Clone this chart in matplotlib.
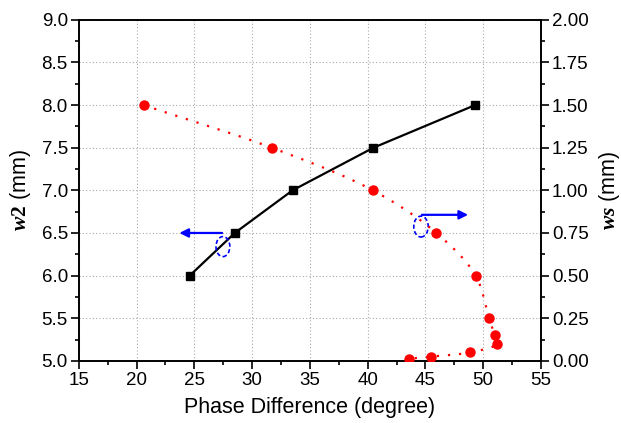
import numpy as np
import matplotlib
matplotlib.use("Agg")
import matplotlib.pyplot as plt
from matplotlib.patches import Ellipse

plt.rcParams['font.family'] = ['Liberation Sans', 'DejaVu Sans']
plt.rcParams['mathtext.fontset'] = 'custom'
plt.rcParams['mathtext.it'] = 'Liberation Serif:italic:bold'
plt.rcParams['mathtext.rm'] = 'Liberation Serif:bold'

# Data
w2_phase = [24.6, 28.5, 33.5, 40.5, 49.3]
w2_vals = [6.0, 6.5, 7.0, 7.5, 8.0]

ws_phase = [20.6, 31.7, 40.45, 45.95, 49.35, 50.5, 51.0, 51.17, 48.9, 45.5, 43.6]
ws_vals = [1.50, 1.25, 1.00, 0.75, 0.50, 0.25, 0.15, 0.10, 0.05, 0.025, 0.012]

x_ticks = [15, 20, 25, 30, 35, 40, 45, 50, 55]
left_ticks = [5.0, 5.5, 6.0, 6.5, 7.0, 7.5, 8.0, 8.5, 9.0]
right_ticks = [0.0, 0.25, 0.5, 0.75, 1.0, 1.25, 1.5, 1.75, 2.0]


def catmull_rom(xs, ys, sx, sy, n=30, alpha=0.5):
    P = np.column_stack([np.asarray(xs) * sx, np.asarray(ys) * sy])
    P = np.vstack([2 * P[0] - P[1], P, 2 * P[-1] - P[-2]])
    out = []
    for i in range(1, len(P) - 2):
        p0, p1, p2, p3 = P[i - 1], P[i], P[i + 1], P[i + 2]
        t0 = 0.0
        t1 = t0 + np.linalg.norm(p1 - p0) ** alpha + 1e-9
        t2 = t1 + np.linalg.norm(p2 - p1) ** alpha + 1e-9
        t3 = t2 + np.linalg.norm(p3 - p2) ** alpha + 1e-9
        t = np.linspace(t1, t2, n)[:, None]
        A1 = (t1 - t) / (t1 - t0) * p0 + (t - t0) / (t1 - t0) * p1
        A2 = (t2 - t) / (t2 - t1) * p1 + (t - t1) / (t2 - t1) * p2
        A3 = (t3 - t) / (t3 - t2) * p2 + (t - t2) / (t3 - t2) * p3
        B1 = (t2 - t) / (t2 - t0) * A1 + (t - t0) / (t2 - t0) * A2
        B2 = (t3 - t) / (t3 - t1) * A2 + (t - t1) / (t3 - t1) * A3
        C = (t2 - t) / (t2 - t1) * B1 + (t - t1) / (t2 - t1) * B2
        out.append(C if i == 1 else C[1:])
    C = np.vstack(out)
    return C[:, 0] / sx, C[:, 1] / sy


fig = plt.figure(figsize=(6.21, 4.23), dpi=100)
ax = fig.add_axes([0.127, 0.147, 0.744, 0.806])
ax2 = ax.twinx()

ax.set_xlim(15, 55)
ax.set_ylim(5.0, 9.0)
ax2.set_ylim(0.0, 2.0)

ax.set_xticks(x_ticks)
ax.set_yticks(left_ticks)
ax.set_yticklabels([f"{v:.1f}" for v in left_ticks])
ax2.set_yticks(right_ticks)
ax2.set_yticklabels([f"{v:.2f}" for v in right_ticks])
ax.xaxis.set_minor_locator(matplotlib.ticker.AutoMinorLocator(2))
ax.yaxis.set_minor_locator(matplotlib.ticker.AutoMinorLocator(2))
ax2.yaxis.set_minor_locator(matplotlib.ticker.AutoMinorLocator(2))

ax.grid(True, which='major', color='#aaaaaa', linestyle=(0, (1, 2)), linewidth=0.8)

for a in (ax, ax2):
    for s in a.spines.values():
        s.set_linewidth(1.2)
ax.tick_params(axis='both', which='major', direction='out', length=6, width=1.2,
               labelsize=13.5, pad=2, top=False)
ax.tick_params(axis='both', which='minor', direction='out', length=3, width=1.2, top=False)
ax2.tick_params(axis='y', which='major', direction='out', length=6, width=1.2,
                labelsize=13.5, pad=2)
ax2.tick_params(axis='y', which='minor', direction='out', length=3, width=1.2)

# black series
ax.plot(w2_phase, w2_vals, color='black', lw=1.6, marker='s', markersize=5.5, zorder=3)

# red series with smooth dotted connection
sx_, sy_ = catmull_rom(ws_phase, ws_vals, 11.6, 170.0)
ax2.plot(sx_, sy_, color='red', lw=1.6, linestyle=(0, (1, 4)), zorder=2)
ax2.plot(ws_phase, ws_vals, linestyle='none', marker='o', color='red', markersize=6.5, zorder=3)

# annotations
ax.add_patch(Ellipse((27.47, 6.34), 1.2, 0.235, fill=False, edgecolor='blue',
                     linestyle=(0, (2.5, 1.5)), lw=1.2, zorder=4))
ax.annotate('', xy=(23.7, 6.5), xytext=(27.4, 6.5),
            arrowprops=dict(arrowstyle='-|>', color='blue', lw=1.6, mutation_scale=13,
                            shrinkA=0, shrinkB=0), zorder=4)
ax.add_patch(Ellipse((44.62, 6.575), 1.25, 0.245, fill=False, edgecolor='blue',
                     linestyle=(0, (2.5, 1.5)), lw=1.2, zorder=4))
ax.annotate('', xy=(48.7, 6.713), xytext=(44.7, 6.713),
            arrowprops=dict(arrowstyle='-|>', color='blue', lw=1.6, mutation_scale=13,
                            shrinkA=0, shrinkB=0), zorder=4)

ax.set_xlabel('Phase Difference (degree)', fontsize=15.5, labelpad=6)
ax.set_ylabel(r'$\mathit{w2}$ (mm)', fontsize=15.5, labelpad=6)
ax2.set_ylabel(r'$\mathit{ws}$ (mm)', fontsize=15.5, labelpad=6, rotation=90)

fig.savefig('out.png', dpi=100)
